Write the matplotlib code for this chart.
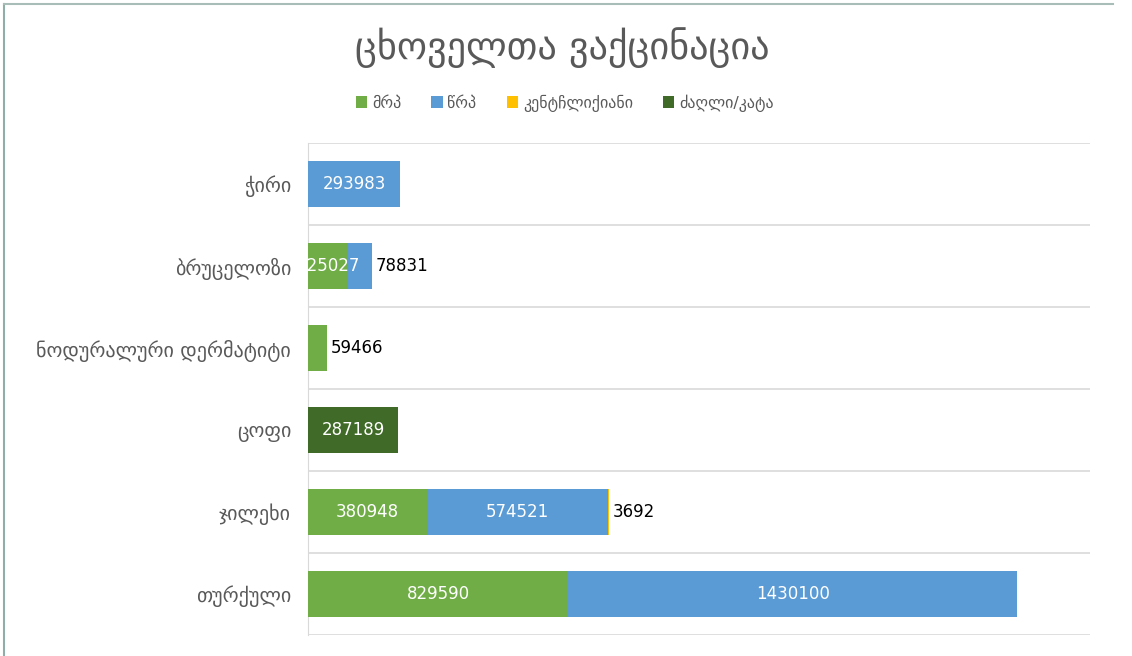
import numpy as np
import matplotlib
matplotlib.use("Agg")
import matplotlib.pyplot as plt
from matplotlib.lines import Line2D
from matplotlib.patches import Patch

plt.rcParams["font.family"] = ["DejaVu Sans"]

# ------ data (bottom to top, as drawn) ------
CATEGORIES = ["თურქული", "ჯილეხი", "ცოფი", "ნოდურალური დერმატიტი", "ბრუცელოზი", "ჭირი"]
SERIES = ["მრპ", "წრპ", "კენტჩლიქიანი", "ძაღლი/კატა"]
MRP = [829590, 380948, 0, 59466, 125027, 0]
WRP = [1430100, 574521, 0, 0, 78831, 293983]
KENT = [0, 3692, 0, 0, 0, 0]
DOG_CAT = [0, 0, 287189, 0, 0, 0]
COLORS = ["#70AD47", "#5B9BD5", "#FFC000", "#3F6A27"]

TEXT_GRAY = "#595959"

fig = plt.figure(figsize=(11.32, 6.56), dpi=100)
ax = fig.add_axes([0.272, 0.032, 0.691, 0.750])

y = np.arange(len(CATEGORIES))
left = np.zeros(len(CATEGORIES))
inside_min = 100000  # segments narrower than this get their label outside
for name, vals, col in zip(SERIES, [MRP, WRP, KENT, DOG_CAT], COLORS):
    vals = np.array(vals, float)
    ax.barh(y, vals, left=left, height=0.55, color=col, zorder=3)
    for i, v in enumerate(vals):
        if v <= 0:
            continue
        if v >= inside_min:
            ax.text(left[i] + v / 2, y[i], f"{int(v)}", ha="center", va="center",
                    color="white", fontsize=12, zorder=4, clip_on=True)
        else:
            total = left[i] + v
            ax.text(total + 12000, y[i], f"{int(v)}", ha="left", va="center",
                    color="black", fontsize=12, zorder=4)
    left += vals

ax.set_xlim(0, 2492000)
ax.set_ylim(-0.5, len(CATEGORIES) - 0.5)
ax.set_yticks(y)
ax.set_yticklabels(CATEGORIES, fontsize=14.5, color=TEXT_GRAY)
ax.tick_params(axis="y", length=0, pad=12)
ax.set_xticks([])
for b in np.arange(-0.5, len(CATEGORIES), 1.0):
    ax.axhline(b, color="#D9D9D9", lw=1.2, zorder=1)
for s in ["top", "right", "bottom"]:
    ax.spines[s].set_visible(False)
ax.spines["left"].set_color("#D9D9D9")

fig.text(0.497, 0.927, "ცხოველთა ვაქცინაცია", ha="center", va="center",
         fontsize=27.5, color=TEXT_GRAY)

handles = [Patch(facecolor=c, edgecolor="none") for c in COLORS]
fig.legend(handles, SERIES, loc="center", bbox_to_anchor=(0.499, 0.843), ncol=4,
           frameon=False, fontsize=11.5, handlelength=0.7, handleheight=0.7,
           handletextpad=0.3, columnspacing=1.9, labelcolor=TEXT_GRAY)

# outer frame (left and top edges)
fig.add_artist(Line2D([0.0035, 0.0035], [0.0, 0.994], transform=fig.transFigure,
                      color="#8FAEA6", lw=1.5))
fig.add_artist(Line2D([0.0035, 0.983], [0.994, 0.994], transform=fig.transFigure,
                      color="#A9BDB8", lw=1.5))

fig.savefig("out.png", dpi=100, facecolor="white")
